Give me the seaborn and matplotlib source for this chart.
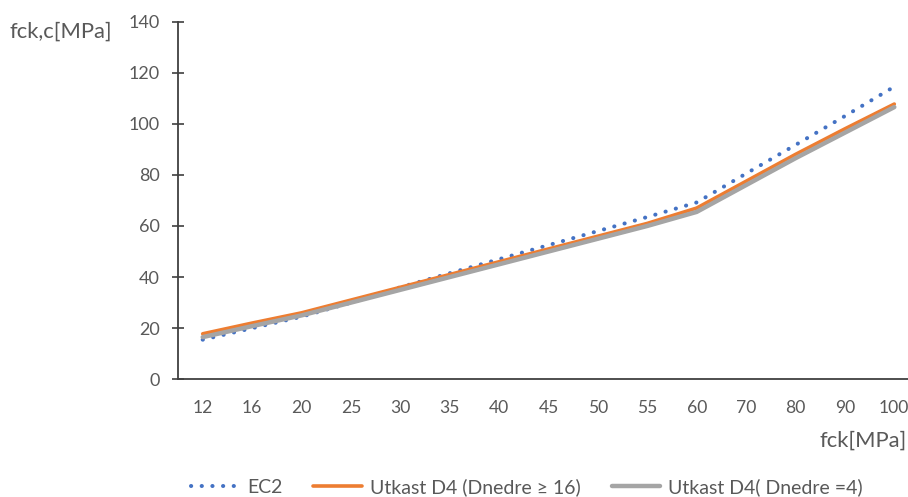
import matplotlib
matplotlib.use("Agg")
import matplotlib.pyplot as plt
import seaborn as sns
import numpy as np
import pandas as pd

categories = ["12", "16", "20", "25", "30", "35", "40", "45", "50", "55", "60", "70", "80", "90", "100"]
ec2 = [15.5, 20.0, 24.5, 30.0, 36.0, 41.5, 47.0, 52.5, 58.0, 63.5, 69.2, 80.5, 91.7, 103.0, 114.5]
utkast_16 = [17.8, 22.0, 26.0, 31.0, 36.0, 41.0, 46.0, 51.0, 56.0, 61.0, 67.0, 77.5, 88.0, 98.0, 107.7]
utkast_4 = [16.5, 20.8, 25.0, 30.0, 35.0, 40.0, 45.0, 50.0, 55.0, 60.0, 65.5, 76.0, 86.5, 96.5, 106.5]
series_names = ["EC2", "Utkast D4 (Dnedre \u2265 16)", "Utkast D4( Dnedre =4)"]
yticks = [0, 20, 40, 60, 80, 100, 120, 140]

sns.set_theme(style="white")
plt.rcParams["font.family"] = ["Lato", "DejaVu Sans"]
TXT = "#595959"
FS = 12.6

df = pd.DataFrame({
    "pos": np.tile(np.arange(len(categories)), 3),
    "value": ec2 + utkast_16 + utkast_4,
    "series": np.repeat(series_names, len(categories)),
})

W, H = 908, 497
fig = plt.figure(figsize=(W / 100, H / 100), dpi=100)
left, bottom = 178 / W, 1 - 379.3 / H
width = 741 / W
height = (379.3 - 21.5) / H
ax = fig.add_axes([left, bottom, width, height])

styles = {
    series_names[0]: dict(color="#4472C4", lw=2.9, linestyle=(0, (0.05, 2.6)), dash_capstyle="round"),
    series_names[1]: dict(color="#ED7D31", lw=2.6, solid_capstyle="round"),
    series_names[2]: dict(color="#A5A5A5", lw=3.2, solid_capstyle="round"),
}
for name in series_names:
    sub = df[df["series"] == name]
    sns.lineplot(data=sub, x="pos", y="value", ax=ax, legend=False, sort=False, **styles[name])

ax.set_xlim(-0.5, len(categories) - 0.5)
ax.set_ylim(0, 140)
ax.set_xticks(np.arange(len(categories)))
ax.set_xticklabels(categories)
ax.set_yticks(yticks)
ax.set_xlabel("")
ax.set_ylabel("")
for s in ["top", "right"]:
    ax.spines[s].set_visible(False)
for s in ["left", "bottom"]:
    ax.spines[s].set_color("#404040")
    ax.spines[s].set_linewidth(1.3)
ax.tick_params(axis="y", direction="inout", length=8, width=1.2, color="#404040",
               labelsize=13, labelcolor=TXT, pad=9, left=True)
ax.tick_params(axis="x", length=0, labelsize=FS, labelcolor=TXT, pad=15)

fig.text(10 / W, 1 - 32 / H, "fck,c[MPa]", ha="left", va="center", fontsize=15.8, color=TXT)
fig.text(907 / W, 1 - 441 / H, "fck[MPa]", ha="right", va="center", fontsize=15.8, color=TXT)

handles = ax.get_lines()[:3]
leg = fig.legend(handles, series_names, loc="center", bbox_to_anchor=(0.58, 1 - 487 / H),
                 ncol=3, frameon=False, fontsize=14, handlelength=2.5, handletextpad=0.4,
                 columnspacing=1.6, labelcolor=TXT)

fig.savefig("out.png", dpi=100)
